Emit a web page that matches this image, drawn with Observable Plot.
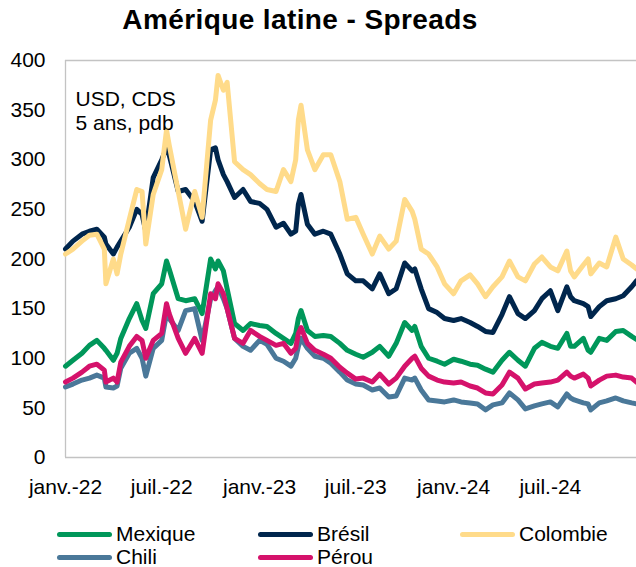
<!DOCTYPE html>
<html>
<head>
<meta charset="utf-8">
<script src="https://cdn.jsdelivr.net/npm/d3@7"></script>
<script src="https://cdn.jsdelivr.net/npm/@observablehq/plot@0.6"></script>
<style>
  html, body { margin: 0; padding: 0; background: #fff; }
  body { width: 636px; height: 567px; position: relative; font-family: "Liberation Sans", Arial, sans-serif; overflow: hidden; }
  #title { position: absolute; left: 0; top: 0; width: 600px; height: 40px; line-height: 40px; text-align: center; font-weight: bold; font-size: 28px; letter-spacing: 0.4px; color: #000; }
  #chart { position: absolute; left: 0; top: 40px; }
  .leg { position: absolute; font-size: 21px; color: #000; height: 24px; line-height: 24px; white-space: nowrap; }
  .leg .sw { display: inline-block; width: 55px; height: 5px; border-radius: 3px; vertical-align: middle; margin-right: 4px; position: relative; top: -1px; }
</style>
</head>
<body>
<div id="title">Amérique latine - Spreads</div>
<div id="chart"></div>
<div id="legend"></div>
<script>
const dates = ["2022-01-01","2022-01-15","2022-02-01","2022-02-15","2022-03-01","2022-03-15","2022-03-18","2022-04-01","2022-04-08","2022-04-15",
"2022-05-01","2022-05-15","2022-05-25","2022-06-01","2022-06-15","2022-07-01","2022-07-10","2022-07-15","2022-08-01","2022-08-15",
"2022-09-01","2022-09-15","2022-10-01","2022-10-10","2022-10-15","2022-10-25","2022-11-01","2022-11-15","2022-12-01","2022-12-15",
"2023-01-01","2023-01-15","2023-02-01","2023-02-15","2023-03-01","2023-03-10","2023-03-15","2023-03-20","2023-04-01","2023-04-15",
"2023-05-01","2023-05-15","2023-06-01","2023-06-15","2023-07-01","2023-07-15","2023-08-01","2023-08-15","2023-09-01","2023-09-15",
"2023-10-01","2023-10-15","2023-10-20","2023-11-01","2023-11-15","2023-12-01","2023-12-15","2024-01-01","2024-01-15","2024-02-01",
"2024-02-15","2024-03-01","2024-03-15","2024-04-01","2024-04-15","2024-05-01","2024-05-15","2024-06-01","2024-06-15","2024-07-01",
"2024-07-15","2024-08-01","2024-08-08","2024-08-15","2024-09-01","2024-09-10","2024-09-15","2024-10-01","2024-10-15","2024-11-01",
"2024-11-15","2024-12-01","2024-12-10"];

const bresil = [210,218,225,228,230,222,215,205,212,218,
232,250,245,228,282,300,312,305,268,270,
258,238,310,312,300,285,278,262,270,258,
256,250,232,236,225,228,255,265,235,225,
228,225,205,185,178,178,170,185,165,170,
196,188,190,170,150,146,140,138,140,136,
132,127,126,144,162,145,140,148,160,168,
148,172,162,158,155,152,142,152,158,160,
163,172,178];

const colombie = [205,210,218,224,225,210,175,200,185,205,
240,270,268,215,265,290,330,315,268,230,
268,242,340,360,385,370,378,298,290,285,
276,270,268,290,278,300,340,355,310,290,
305,305,278,240,242,225,205,223,210,218,
260,248,240,210,205,192,175,165,178,184,
175,162,172,182,198,182,178,195,202,192,
188,208,188,182,194,200,185,196,192,222,
200,194,190];

const mexique = [92,98,105,113,118,110,108,98,105,120,
140,155,138,130,165,175,198,190,160,158,
160,145,200,190,198,188,170,135,128,135,
133,132,125,120,115,125,140,148,128,122,
123,122,115,108,104,101,106,112,102,115,
136,128,132,112,100,97,94,99,97,94,
93,89,86,98,106,98,92,110,116,112,
110,125,112,112,120,108,106,120,118,127,
128,122,119];

const chili = [71,74,78,80,83,80,71,70,72,90,
105,110,100,82,110,118,145,140,128,148,
150,118,160,168,172,160,150,120,112,108,
118,114,100,97,92,100,112,120,110,102,
100,95,86,78,74,73,68,70,61,62,
80,78,80,68,58,57,56,58,56,55,
54,48,53,55,65,58,49,52,54,56,
51,64,60,58,55,54,48,55,57,60,
57,55,54];

const perou = [76,80,86,92,94,88,76,80,76,96,
112,122,118,100,118,125,155,145,120,105,
120,105,165,160,175,165,150,120,115,128,
122,118,113,115,105,110,125,131,115,108,
104,100,91,85,79,80,76,84,74,80,
92,100,102,90,82,78,76,75,76,72,
70,65,64,73,86,80,69,74,75,76,
78,86,82,80,84,80,72,78,82,83,
81,80,76];

const seriesNames = ["Mexique","Brésil","Colombie","Chili","Pérou"];
const seriesColors = ["#00975a","#00264d","#ffdb8a","#4a7899","#d5126b"];
const seriesValues = [mexique, bresil, colombie, chili, perou];

const yTicks = [0,50,100,150,200,250,300,350,400];
const xTickDates = ["2022-01-01","2022-07-01","2023-01-01","2023-07-01","2024-01-01","2024-07-01"];
const xTickLabels = ["janv.-22","juil.-22","janv.-23","juil.-23","janv.-24","juil.-24"];
const noteText = "USD, CDS\n5 ans, pdb";

const rows = [];
seriesNames.forEach((name, i) => {
  dates.forEach((d, j) => rows.push({series: name, date: new Date(d), value: seriesValues[i][j]}));
});
const xTicks = xTickDates.map(d => new Date(d));
const labelOf = new Map(xTicks.map((d, i) => [+d, xTickLabels[i]]));
const x0 = new Date("2022-01-01"), x1 = new Date("2024-12-10");

const chart = Plot.plot({
  width: 636,
  height: 470,
  marginLeft: 65,
  marginRight: 0,
  marginTop: 20,
  marginBottom: 53,
  style: {fontFamily: "'Liberation Sans', Arial, sans-serif", fontSize: "21px", color: "#000", background: "#fff"},
  x: {type: "utc", domain: [x0, x1]},
  y: {domain: [0, 400]},
  color: {domain: seriesNames, range: seriesColors},
  marks: [
    Plot.ruleY([400], {stroke: "#c3c3c3", strokeWidth: 1.3}),
    Plot.ruleX([x0], {stroke: "#c3c3c3", strokeWidth: 1.3}),
    Plot.axisY({ticks: yTicks, tickSize: 0, tickPadding: 20, label: null, fontSize: 21}),
    Plot.axisX({ticks: xTicks, tickSize: 0, tickPadding: 22, label: null, fontSize: 21, tickFormat: d => labelOf.get(+d)}),
    Plot.lineY(rows, {x: "date", y: "value", z: "series", stroke: "series", strokeWidth: 5, strokeLinejoin: "round", strokeLinecap: "round"}),
    Plot.ruleY([0], {stroke: "#c3c3c3", strokeWidth: 1.3}),
    Plot.text([noteText], {frameAnchor: "top-left", textAnchor: "start", lineAnchor: "middle", dx: 10, dy: 50, lineHeight: 1.15, fontSize: 21, fill: "#000"})
  ]
});
document.getElementById("chart").appendChild(chart);

const legendPos = [[57,522],[258,522],[460,522],[57,545],[258,545]];
const legend = document.getElementById("legend");
seriesNames.forEach((name, i) => {
  const div = document.createElement("div");
  div.className = "leg";
  div.style.left = legendPos[i][0] + "px";
  div.style.top = legendPos[i][1] + "px";
  const sw = document.createElement("span");
  sw.className = "sw";
  sw.style.background = seriesColors[i];
  div.appendChild(sw);
  div.appendChild(document.createTextNode(name));
  legend.appendChild(div);
});
</script>
</body>
</html>
